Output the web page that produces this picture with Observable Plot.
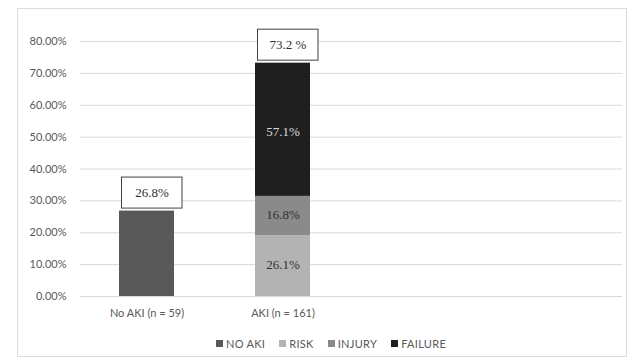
<!DOCTYPE html>
<html><head><meta charset="utf-8">
<script src="https://cdn.jsdelivr.net/npm/d3@7"></script>
<script src="https://cdn.jsdelivr.net/npm/@observablehq/plot@0.6"></script>
<style>
body{margin:0;background:#fff;}
#wrap{position:relative;width:630px;height:362px;overflow:hidden;background:#fff;}
#frame{position:absolute;left:17px;top:8px;width:610px;height:349px;border:1px solid #dcdcdc;box-sizing:border-box;}
#chart{position:absolute;left:0;top:0;}
#legend{position:absolute;left:23px;top:327px;width:630px;display:flex;justify-content:center;}
.lg-swatch{margin-right:14px !important;letter-spacing:0.3px;}
.lg-swatch > svg{margin-right:3px !important;}
</style></head><body>
<div id="wrap"><div id="frame"></div><div id="chart"></div><div id="legend"></div></div>
<script>
const categories = ["No AKI (n = 59)", "AKI (n = 161)"];
const series = ["NO AKI", "RISK", "INJURY", "FAILURE"];
const seriesColors = ["#595959", "#b3b3b3", "#8a8a8a", "#1f1f1f"];
const totals = [26.8, 73.2];
const totalLabels = ["26.8%", "73.2 %"];
const akiShares = [26.1, 16.8, 57.1];            // RISK, INJURY, FAILURE share within AKI group
const akiShareLabels = ["26.1%", "16.8%", "57.1%"];
const yTicks = [0, 10, 20, 30, 40, 50, 60, 70, 80];

const akiValues = akiShares.map(s => totals[1] * s / 100);
const akiTops = Array.from(d3.cumsum(akiValues));
const rows = [
  {cat: categories[0], series: series[0], value: totals[0], label: null, mid: totals[0] / 2},
  ...akiValues.map((v, i) => ({cat: categories[1], series: series[i + 1], value: v, label: akiShareLabels[i], mid: akiTops[i] - v / 2}))
];
const totalRows = categories.map((c, i) => ({cat: c, total: totals[i], label: totalLabels[i]}));
const labelRows = rows.filter(d => d.label);

const sans = "Lato, 'Open Sans', sans-serif";
const serif = "'Liberation Serif', 'DejaVu Serif', serif";

const chart = Plot.plot({
  width: 630, height: 325,
  marginTop: 41, marginBottom: 29, marginLeft: 80, marginRight: 8,
  style: {fontFamily: sans, fontSize: "11px", color: "#595959", background: "transparent"},
  x: {domain: categories, range: [80, 349], paddingInner: 0.596, paddingOuter: 0.286, tickSize: 0, tickPadding: 13, label: null},
  y: {domain: [0, 80], ticks: yTicks, tickFormat: d => d.toFixed(2) + "%", tickSize: 0, tickPadding: 14, label: null},
  color: {domain: series, range: seriesColors},
  marks: [
    Plot.ruleY(yTicks, {stroke: "#d9d9d9", strokeWidth: 1}),
    Plot.barY(rows, {x: "cat", y: "value", fill: "series"}),
    Plot.text(labelRows.filter(d => d.series !== "FAILURE"), {x: "cat", y: "mid", text: "label", fill: "#303030", fontFamily: serif, fontSize: 13, dy: -1}),
    Plot.text(labelRows.filter(d => d.series === "FAILURE"), {x: "cat", y: "mid", text: "label", fill: "#dcdcdc", fontFamily: serif, fontSize: 13, dy: 2}),
    Plot.barY(totalRows, {x: "cat", y1: "total", y2: "total", insetTop: -31, insetLeft: 2.5, insetRight: -8, dy: -2.5, fill: "white", stroke: "#404040", strokeWidth: 1}),
    Plot.text(totalRows, {x: "cat", y: "total", text: "label", dy: -18.5, dx: 5, fill: "#303030", fontFamily: serif, fontSize: 13})
  ]
});
document.getElementById("chart").appendChild(chart);

const legend = Plot.legend({
  color: {domain: series, range: seriesColors},
  legend: "swatches", swatchSize: 7, className: "lg",
  style: {fontFamily: sans, fontSize: "11px", color: "#595959", background: "transparent"}
});
document.getElementById("legend").appendChild(legend);
</script>
</body></html>
